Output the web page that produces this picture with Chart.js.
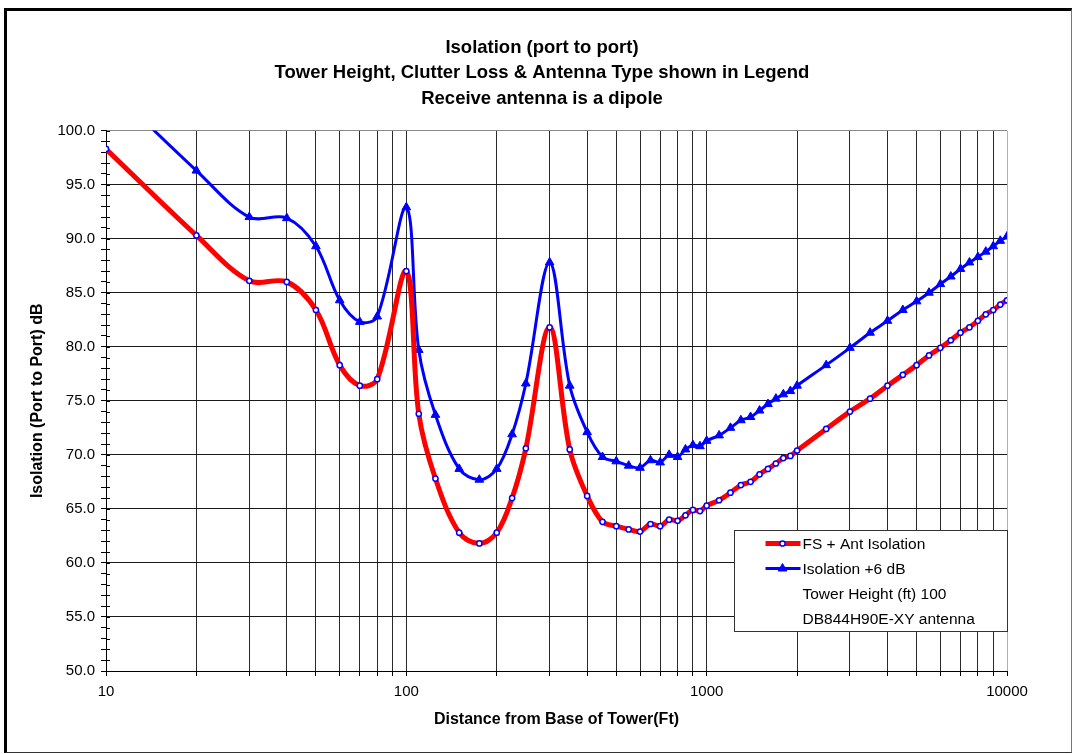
<!DOCTYPE html>
<html>
<head>
<meta charset="utf-8">
<title>Isolation (port to port)</title>
<script src="https://cdn.jsdelivr.net/npm/chart.js@4.4.1/dist/chart.umd.min.js"></script>
<style>
  html, body { margin: 0; padding: 0; background: #fff; }
  #wrap { position: relative; width: 1074px; height: 754px; }
  #frame {
    position: absolute; left: 4px; top: 8px; width: 1064px; height: 741px;
    border-left: 3px solid #000; border-top: 3px solid #000;
    border-right: 1px solid #777; border-bottom: 1px solid #333;
    pointer-events: none;
  }
</style>
</head>
<body>
<div id="wrap">
  <canvas id="isoChart" width="1074" height="754"></canvas>
  <div id="frame"></div>
</div>
<script>
// distance from tower base (ft)
const distances = [10, 20, 30, 40, 50, 60, 70, 80, 100, 110, 125, 150, 175, 200, 225, 250,
  300, 350, 400, 450, 500, 550, 600, 650, 700, 750, 800, 850, 900, 950, 1000,
  1100, 1200, 1300, 1400, 1500, 1600, 1700, 1800, 1900, 2000, 2500, 3000, 3500,
  4000, 4500, 5000, 5500, 6000, 6500, 7000, 7500, 8000, 8500, 9000, 9500, 10000];

// free space + antenna isolation (dB)
const fsIsolation = [98.3, 90.3, 86.1, 86.0, 83.4, 78.3, 76.4, 77.0, 87.0, 73.8, 67.8, 62.8, 61.8, 62.8, 66.0, 70.6,
  81.8, 70.5, 66.2, 63.8, 63.4, 63.1, 62.9, 63.6, 63.4, 64.0, 63.9, 64.4, 64.9, 64.8, 65.3,
  65.8, 66.5, 67.2, 67.5, 68.2, 68.7, 69.2, 69.7, 69.9, 70.4, 72.4, 74.0, 75.2,
  76.4, 77.4, 78.3, 79.2, 79.9, 80.6, 81.3, 81.8, 82.4, 83.0, 83.4, 83.9, 84.3];

// same curve with 6 dB margin
const isolationPlus6 = [104.3, 96.3, 92.0, 91.9, 89.3, 84.3, 82.3, 82.8, 92.9, 79.7, 73.7, 68.7, 67.7, 68.7, 71.9, 76.6,
  87.8, 76.4, 72.1, 69.8, 69.4, 69.0, 68.8, 69.5, 69.3, 70.0, 69.8, 70.5, 70.9, 70.8, 71.3,
  71.8, 72.5, 73.2, 73.5, 74.1, 74.7, 75.2, 75.6, 75.9, 76.4, 78.3, 79.9, 81.3,
  82.4, 83.4, 84.2, 85.0, 85.8, 86.5, 87.2, 87.8, 88.3, 88.8, 89.3, 89.8, 90.2];

const xTickLabels = [10, 100, 1000, 10000];
const yMajorStep = 5;
const legendNotes = ["Tower Height (ft) 100", "DB844H90E-XY antenna"];

// 1..9 per decade for the log grid
const xGridValues = [];
[10, 100, 1000].forEach(d => {
  for (let m = 1; m < 10; m++) xGridValues.push(d * m);
});
xGridValues.push(10000);

const FONT = "'Liberation Sans', Arial, sans-serif";
Chart.defaults.font.family = FONT;
Chart.defaults.color = "#000";

const redStyle = {
  borderColor: "#ff0000", borderWidth: 5,
  pointStyle: "circle", pointRadius: 2.6, pointBorderWidth: 1.5,
  pointBackgroundColor: "#ffffff", pointBorderColor: "#0000ff"
};
const blueStyle = {
  borderColor: "#0000ff", borderWidth: 3,
  pointStyle: "triangle", pointRadius: 5, pointBorderWidth: 1,
  pointBackgroundColor: "#0000ff", pointBorderColor: "#0000ff"
};

function toPoints(values) {
  return distances.map((d, i) => ({ x: d, y: values[i] }));
}

// legend box in the lower right of the plot, plus inner halves of y tick marks
const plotLegend = {
  id: "plotLegend",
  afterLayout(chart) {
    // center the title across the whole frame, not just between paddings
    if (chart.titleBlock) {
      chart.titleBlock.left = 10;
      chart.titleBlock.right = 1074;
    }
  },
  beforeDatasetsDraw(chart) {
    const ctx = chart.ctx;
    const y = chart.scales.y;
    const left = chart.chartArea.left;
    ctx.save();
    ctx.strokeStyle = "#000";
    ctx.lineWidth = 1;
    y.ticks.forEach(t => {
      const py = Math.round(y.getPixelForValue(t.value)) + 0.5;
      ctx.beginPath();
      ctx.moveTo(left, py);
      ctx.lineTo(left + 4, py);
      ctx.stroke();
    });
    ctx.restore();
  },
  afterDraw(chart) {
    const ctx = chart.ctx;
    const area = chart.chartArea;
    const w = 273, h = 101;
    const bx = Math.round(area.right - w) + 0.5;
    const by = Math.round(area.top + 399) + 0.5;
    ctx.save();
    ctx.fillStyle = "#fff";
    ctx.fillRect(bx, by, w, h);
    ctx.strokeStyle = "#333";
    ctx.lineWidth = 1;
    ctx.strokeRect(bx, by, w, h);

    const rows = [
      { text: "FS + Ant Isolation", style: redStyle },
      { text: "Isolation +6 dB", style: blueStyle }
    ].concat(legendNotes.map(t => ({ text: t })));

    ctx.font = "15.5px " + FONT;
    ctx.textBaseline = "middle";
    rows.forEach((row, i) => {
      const ry = by + 13 + i * 25;
      const s = row.style;
      if (s) {
        ctx.strokeStyle = s.borderColor;
        ctx.lineWidth = s.borderWidth;
        ctx.beginPath();
        ctx.moveTo(bx + 31, ry);
        ctx.lineTo(bx + 66, ry);
        ctx.stroke();
        ctx.fillStyle = s.pointBackgroundColor;
        ctx.strokeStyle = s.pointBorderColor;
        ctx.lineWidth = s.pointBorderWidth;
        Chart.helpers.drawPoint(ctx, {
          pointStyle: s.pointStyle, radius: s.pointRadius, rotation: 0,
          borderWidth: s.pointBorderWidth
        }, bx + 48, ry);
      }
      ctx.fillStyle = "#000";
      ctx.fillText(row.text, bx + 68, ry + 1);
    });
    ctx.restore();
  }
};

new Chart(document.getElementById("isoChart"), {
  type: "line",
  data: {
    datasets: [
      Object.assign({ label: "FS + Ant Isolation", data: toPoints(fsIsolation), tension: 0.35 }, redStyle),
      Object.assign({ label: "Isolation +6 dB", data: toPoints(isolationPlus6), tension: 0.35 }, blueStyle)
    ]
  },
  options: {
    responsive: false,
    devicePixelRatio: 1,
    animation: false,
    layout: { padding: { left: 10, right: 67, top: 20, bottom: 7 } },
    plugins: {
      legend: { display: false },
      tooltip: { enabled: false },
      title: {
        display: true,
        text: [
          "Isolation (port to port)",
          "Tower Height, Clutter Loss & Antenna Type shown in Legend",
          "Receive antenna is a dipole"
        ],
        color: "#000",
        font: { size: 18.5, weight: "bold", lineHeight: 1.38 },
        padding: { top: 15, bottom: 19 }
      }
    },
    scales: {
      x: {
        type: "logarithmic",
        min: 10,
        max: 10000,
        afterBuildTicks(scale) {
          scale.ticks = xGridValues.map(v => ({ value: v }));
        },
        afterFit(scale) { scale.height = 76; },
        ticks: {
          autoSkip: false,
          maxRotation: 0,
          padding: 7,
          font: { size: 15 },
          callback: v => (xTickLabels.includes(v) ? String(v) : "")
        },
        grid: {
          color: c => (c.tick && c.tick.value === 10000 ? "#b0b0b0" : "#2a2a2a"),
          tickColor: "#000",
          tickLength: 5
        },
        border: { color: "#000", width: 1 },
        title: {
          display: true,
          text: "Distance from Base of Tower(Ft)",
          font: { size: 16, weight: "bold" },
          padding: { top: 12, bottom: 18 }
        }
      },
      y: {
        min: 50,
        max: 100,
        afterFit(scale) { scale.width = 96; },
        ticks: {
          stepSize: 1,
          autoSkip: false,
          padding: 6,
          font: { size: 15 },
          callback: v => (v % yMajorStep === 0 ? v.toFixed(1) : "")
        },
        grid: {
          color: c => {
            const v = c.tick ? c.tick.value : 0;
            if (v % yMajorStep !== 0) return "transparent";
            return v === 100 ? "#8a8a8a" : "#1a1a1a";
          },
          tickColor: "#000",
          tickLength: 5
        },
        border: { color: "#000", width: 1 },
        title: {
          display: true,
          text: "Isolation (Port to Port) dB",
          font: { size: 16, weight: "bold" },
          padding: { top: 18, bottom: 4 }
        }
      }
    }
  },
  plugins: [plotLegend]
});
</script>
</body>
</html>
